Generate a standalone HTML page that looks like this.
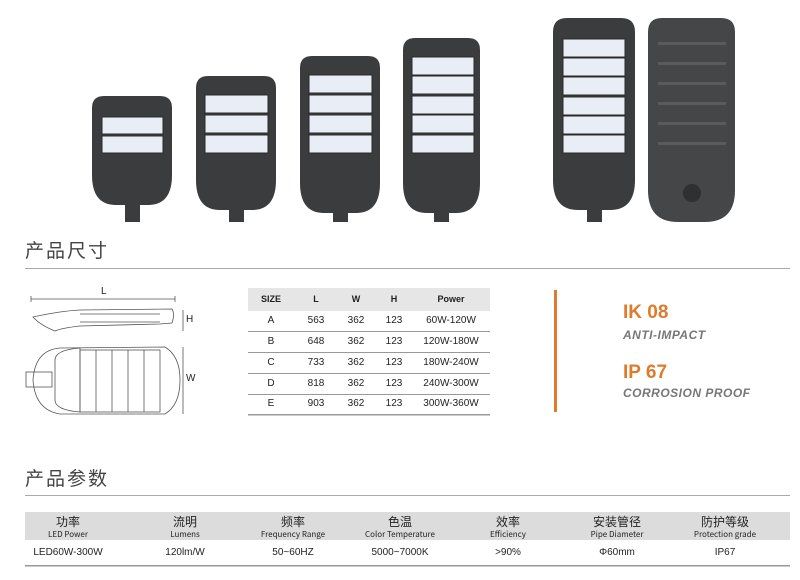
<!DOCTYPE html>
<html><head><meta charset="utf-8"><style>
body{margin:0;width:800px;height:580px;background:#fff;position:relative;overflow:hidden;font-family:"Liberation Sans","Noto Sans CJK SC",sans-serif;color:#222}
.a{position:absolute}
.h{font-size:19px;color:#444;letter-spacing:2px;font-family:"Noto Sans CJK SC",sans-serif}
.c{position:absolute;text-align:center;transform:translateX(-50%);white-space:nowrap}
</style></head><body>
<svg class="a" style="left:0;top:0" width="800" height="580">
<defs>
<g id="p"></g>
</defs>
<!-- lamps -->
<g fill="#3b3c3e">
<path d="M92,108 Q92,96 104,96 L160,96 Q172,96 172,108 L172,175 Q172,205 148,205 L116,205 Q92,205 92,175Z"/>
<path d="M196,88 Q196,76 208,76 L264,76 Q276,76 276,88 L276,180 Q276,210 252,210 L220,210 Q196,210 196,180Z"/>
<path d="M300,68 Q300,56 312,56 L368,56 Q380,56 380,68 L380,183 Q380,213 356,213 L324,213 Q300,213 300,183Z"/>
<path d="M403,50 Q403,38 415,38 L468,38 Q480,38 480,50 L480,183 Q480,213 456,213 L427,213 Q403,213 403,183Z"/>
<path d="M553,32 Q553,18 567,18 L621,18 Q635,18 635,32 L635,180 Q635,210 610,210 L578,210 Q553,210 553,180Z"/>
<path d="M648,32 Q648,18 662,18 L721,18 Q735,18 735,32 L735,190 Q735,222 705,222 L678,222 Q648,222 648,190Z" fill="#454648"/>
<rect x="125" y="190" width="15" height="32"/><rect x="229" y="190" width="15" height="32"/>
<rect x="333" y="190" width="15" height="32"/><rect x="434" y="190" width="15" height="32"/>
<rect x="587" y="188" width="15" height="34"/>
</g>
<circle cx="692" cy="193" r="9" fill="#2f3032"/>
<g fill="#5a5b5d">
<rect x="658" y="42" width="68" height="3"/><rect x="658" y="62" width="68" height="3"/><rect x="658" y="82" width="68" height="3"/>
<rect x="658" y="102" width="68" height="3"/><rect x="658" y="122" width="68" height="3"/><rect x="658" y="142" width="68" height="3"/>
</g>
<g fill="#e9eef6" stroke="#2a2a2a" stroke-width="1">
<rect x="102" y="117" width="61" height="17"/><rect x="102" y="136" width="61" height="17"/>
<rect x="205" y="95" width="63" height="18"/><rect x="205" y="115" width="63" height="18"/><rect x="205" y="135" width="63" height="18"/>
<rect x="309" y="75" width="63" height="18"/><rect x="309" y="95" width="63" height="18"/><rect x="309" y="115" width="63" height="18"/><rect x="309" y="135" width="63" height="18"/>
<rect x="412" y="57" width="62" height="18"/><rect x="412" y="76" width="62" height="18"/><rect x="412" y="96" width="62" height="18"/><rect x="412" y="115" width="62" height="18"/><rect x="412" y="135" width="62" height="18"/>
<rect x="563" y="39" width="62" height="18"/><rect x="563" y="58" width="62" height="18"/><rect x="563" y="77" width="62" height="18"/><rect x="563" y="97" width="62" height="18"/><rect x="563" y="116" width="62" height="18"/><rect x="563" y="135" width="62" height="18"/>
</g>
<!-- header lines -->
<rect x="25" y="268" width="765" height="1" fill="#aaa"/>
<rect x="25" y="495" width="765" height="1" fill="#aaa"/>
<!-- drawing -->
<g stroke="#555" fill="none" stroke-width="0.8">
<line x1="31" y1="299" x2="175" y2="299"/><line x1="31" y1="296" x2="31" y2="302"/><line x1="175" y1="296" x2="175" y2="302"/>
<path d="M33,317 Q60,311 80,310 L172,309 Q175,314 172,323 L160,324 L80,326 Q62,328 55,331 Q40,325 33,317Z"/>
<line x1="80" y1="314" x2="160" y2="314"/><line x1="80" y1="322" x2="160" y2="322"/>
<line x1="183" y1="310" x2="183" y2="331"/>
<path d="M60,348 Q35,350 33,380 Q35,410 60,414 L165,414 Q180,405 180,380 Q180,356 165,347 Z"/>
<path d="M55,360 Q55,350 80,348 L80,412 Q55,410 55,400Z"/>
<rect x="80" y="350" width="80" height="62"/>
<line x1="96" y1="350" x2="96" y2="412"/><line x1="112" y1="350" x2="112" y2="412"/><line x1="128" y1="350" x2="128" y2="412"/><line x1="144" y1="350" x2="144" y2="412"/>
<rect x="26" y="372" width="26" height="15"/>
<line x1="183" y1="347" x2="183" y2="414"/>
</g>
<!-- spec table -->
<rect x="248" y="288" width="242" height="23" fill="#e6e6e6"/>
<g fill="#999"><rect x="248" y="331" width="242" height="1"/><rect x="248" y="352" width="242" height="1"/><rect x="248" y="373" width="242" height="1"/><rect x="248" y="394" width="242" height="1"/><rect x="248" y="414" width="242" height="1.5"/></g>
<rect x="554" y="290" width="3" height="122" fill="#e07a2c"/>
<!-- bottom table -->
<rect x="25" y="512" width="765" height="28" fill="#dcdcdc"/>
<rect x="25" y="565" width="765" height="1.5" fill="#999"/>
</svg>
<div class="a h" style="left:25px;top:236px">产品尺寸</div>
<div class="a h" style="left:25px;top:464px">产品参数</div>
<div class="a" style="left:101px;top:286px;font-size:10px">L</div>
<div class="a" style="left:186px;top:314px;font-size:10px">H</div>
<div class="a" style="left:186px;top:373px;font-size:10px">W</div>
<div style="font-size:10px">
<div class="c" style="left:271px;top:294px;font-weight:bold;font-size:9px">SIZE</div>
<div class="c" style="left:316px;top:294px;font-weight:bold;font-size:9px">L</div>
<div class="c" style="left:356px;top:294px;font-weight:bold;font-size:9px">W</div>
<div class="c" style="left:394px;top:294px;font-weight:bold;font-size:9px">H</div>
<div class="c" style="left:451px;top:294px;font-weight:bold;font-size:9px">Power</div>
<div class="c" style="left:271px;top:315px">A</div><div class="c" style="left:316px;top:315px">563</div><div class="c" style="left:356px;top:315px">362</div><div class="c" style="left:394px;top:315px">123</div><div class="c" style="left:451px;top:315px">60W-120W</div>
<div class="c" style="left:271px;top:336px">B</div><div class="c" style="left:316px;top:336px">648</div><div class="c" style="left:356px;top:336px">362</div><div class="c" style="left:394px;top:336px">123</div><div class="c" style="left:451px;top:336px">120W-180W</div>
<div class="c" style="left:271px;top:357px">C</div><div class="c" style="left:316px;top:357px">733</div><div class="c" style="left:356px;top:357px">362</div><div class="c" style="left:394px;top:357px">123</div><div class="c" style="left:451px;top:357px">180W-240W</div>
<div class="c" style="left:271px;top:378px">D</div><div class="c" style="left:316px;top:378px">818</div><div class="c" style="left:356px;top:378px">362</div><div class="c" style="left:394px;top:378px">123</div><div class="c" style="left:451px;top:378px">240W-300W</div>
<div class="c" style="left:271px;top:398px">E</div><div class="c" style="left:316px;top:398px">903</div><div class="c" style="left:356px;top:398px">362</div><div class="c" style="left:394px;top:398px">123</div><div class="c" style="left:451px;top:398px">300W-360W</div>
</div>
<div class="a" style="left:623px;top:302px;font-size:19px;font-weight:bold;color:#e07a2c">IK 08</div>
<div class="a" style="left:623px;top:328px;font-size:12px;font-weight:bold;font-style:italic;color:#777;letter-spacing:.5px">ANTI-IMPACT</div>
<div class="a" style="left:623px;top:362px;font-size:19px;font-weight:bold;color:#e07a2c">IP 67</div>
<div class="a" style="left:623px;top:386px;font-size:12px;font-weight:bold;font-style:italic;color:#777;letter-spacing:.5px">CORROSION PROOF</div>
<div style="font-family:'Noto Sans CJK SC',sans-serif">
<div class="c" style="left:68px;top:513px;font-size:12px">功率</div><div class="c" style="left:68px;top:529px;font-size:8px">LED Power</div>
<div class="c" style="left:185px;top:513px;font-size:12px">流明</div><div class="c" style="left:185px;top:529px;font-size:8px">Lumens</div>
<div class="c" style="left:293px;top:513px;font-size:12px">频率</div><div class="c" style="left:293px;top:529px;font-size:8px">Frequency Range</div>
<div class="c" style="left:400px;top:513px;font-size:12px">色温</div><div class="c" style="left:400px;top:529px;font-size:8px">Color Temperature</div>
<div class="c" style="left:508px;top:513px;font-size:12px">效率</div><div class="c" style="left:508px;top:529px;font-size:8px">Efficiency</div>
<div class="c" style="left:617px;top:513px;font-size:12px">安装管径</div><div class="c" style="left:617px;top:529px;font-size:8px">Pipe Diameter</div>
<div class="c" style="left:725px;top:513px;font-size:12px">防护等级</div><div class="c" style="left:725px;top:529px;font-size:8px">Protection grade</div>
</div>
<div style="font-size:10px">
<div class="c" style="left:68px;top:547px">LED60W-300W</div>
<div class="c" style="left:185px;top:547px">120lm/W</div>
<div class="c" style="left:293px;top:547px">50~60HZ</div>
<div class="c" style="left:400px;top:547px">5000~7000K</div>
<div class="c" style="left:508px;top:547px">&gt;90%</div>
<div class="c" style="left:617px;top:547px">Φ60mm</div>
<div class="c" style="left:725px;top:547px">IP67</div>
</div>
</body></html>
